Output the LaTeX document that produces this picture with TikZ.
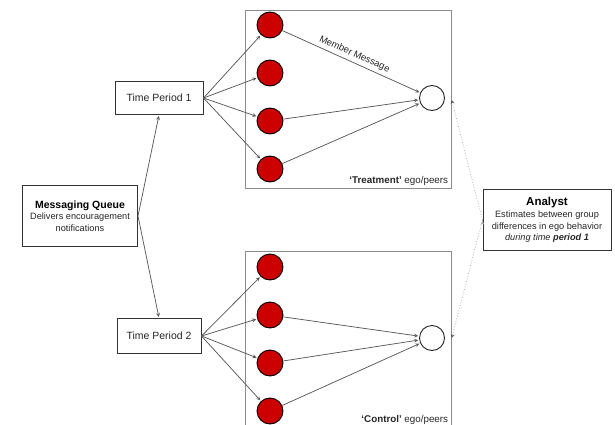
\documentclass[tikz,border=0pt]{standalone}
\usepackage{fontspec}
\setmainfont{Liberation Sans}
\usetikzlibrary{arrows.meta}
\usetikzlibrary{automata}
\usetikzlibrary{positioning}
\definecolor{peerred}{HTML}{CC0000}

\begin{document}
\begin{tikzpicture}[x=1pt,y=-1pt,->,>=stealth,shorten >=1pt,auto,node distance=48pt,
line width=0.75pt,draw=black!65]
\tikzstyle{every state}=[fill=peerred,draw=black,line width=0.9pt,minimum size=26pt,inner sep=0pt]
\tikzstyle{ego}=[state,fill=white,draw=black!85,minimum size=25pt]
\tikzstyle{box}=[rectangle,draw=black!80,line width=1pt,align=center,
font=\fontsize{9.2}{11.7}\selectfont,text=black!85]
\tikzstyle{group}=[rectangle,draw=black!45,line width=0.9pt,minimum width=206pt]
\useasboundingbox (0,0) rectangle (615,425);

% group boxes
\node[group,minimum height=178pt] (grp1) at (348,99)  {};
\node[group,minimum height=176pt] (grp2) at (348,339) {};
\node[anchor=south east,inner sep=3pt,font=\fontsize{9.8}{11}\selectfont,text=black!85]
  at (grp1.south east) {\textbf{‘Treatment’} ego/peers};
\node[anchor=south east,inner sep=3pt,font=\fontsize{9.8}{11}\selectfont,text=black!85]
  at (grp2.south east) {\textbf{‘Control’} ego/peers};

% left side
\node[box,minimum width=115pt,minimum height=61pt] (mq) at (80,216)
  {{\fontsize{10.5}{12}\selectfont\bfseries\color{black}Messaging Queue}\\Delivers encouragement\\notifications};
\node[box,minimum width=88pt,minimum height=33pt,font=\fontsize{10.5}{12}\selectfont] (tp1) at (159,98)  {Time Period 1};
\node[box,minimum width=84pt,minimum height=35pt,font=\fontsize{10.5}{12}\selectfont] (tp2) at (159,336) {Time Period 2};

% peers
\node[state] (t1) at (270,25) {};
\node[state] (t2) [below of=t1] {};
\node[state] (t3) [below of=t2] {};
\node[state] (t4) [below of=t3] {};
\node[state] (c1) at (270,267) {};
\node[state] (c2) [below of=c1] {};
\node[state] (c3) [below of=c2] {};
\node[state] (c4) [below of=c3] {};

% egos
\node[ego] (e1) at (432,98)  {};
\node[ego] (e2) at (432,338) {};

% analyst
\node[box,minimum width=128pt,minimum height=61pt] (an) at (547,220)
  {{\fontsize{11.5}{12.5}\selectfont\bfseries\color{black}Analyst}\\Estimates between group\\differences in ego behavior\\\textit{during time \textbf{period 1}}};

\path (mq.east) edge (tp1.south)
                edge (tp2.north)
(tp1.east) edge (t1) edge (t2) edge (t3) edge (t4)
(tp2.east) edge (c1) edge (c2) edge (c3) edge (c4)
(t1) edge node[sloped,inner sep=3pt,font=\fontsize{9.5}{11}\selectfont,text=black!85] {Member Message} (e1)
(t3) edge (e1)
(t4) edge (e1)
(c2) edge (e2)
(c3) edge (e2)
(c4) edge (e2);

\path[dotted,draw=black!35] (an.west) edge (grp1.east)
                                      edge (grp2.east);
\end{tikzpicture}
\end{document}
